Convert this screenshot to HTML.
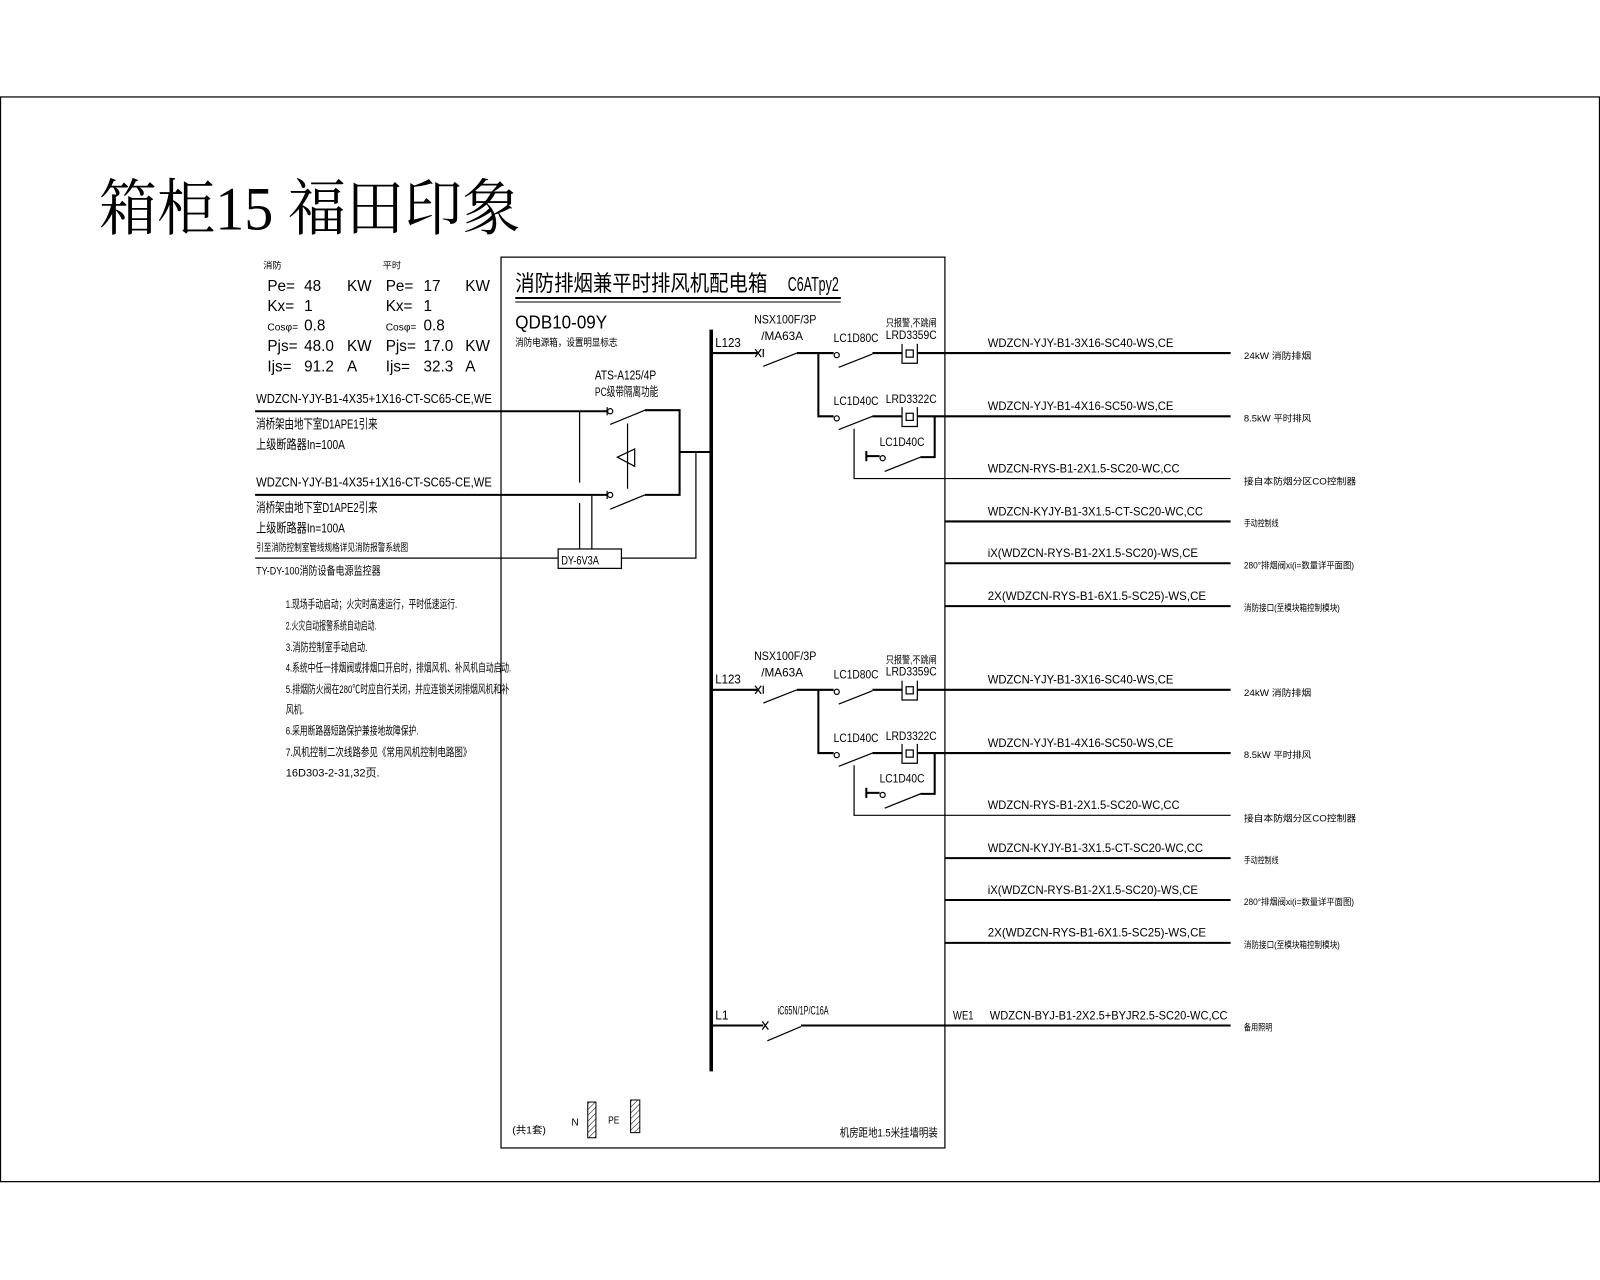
<!DOCTYPE html>
<html><head><meta charset="utf-8"><style>
html,body{margin:0;padding:0;background:#fff;}
svg{display:block;}
text{font-family:"Liberation Sans","Noto Sans CJK SC",sans-serif;fill:#000;}
.t{font-family:"Liberation Serif","Noto Serif CJK SC",serif;}
</style></head><body>
<svg width="1600" height="1280" viewBox="0 0 1568 1254.4" xmlns="http://www.w3.org/2000/svg" stroke="#000" fill="none">
<rect x="0.5" y="95" width="1567" height="1063" stroke-width="1.2"/>
<g stroke="none">
<text class="t" x="97" y="225" font-size="60" textLength="413" lengthAdjust="spacingAndGlyphs">箱柜15 福田印象</text>
</g>
<!-- main box -->
<rect x="491" y="252" width="435" height="873" stroke-width="1.2"/>
<g stroke="none">
<text x="505" y="285" font-size="22" textLength="247" lengthAdjust="spacingAndGlyphs">消防排烟兼平时排风机配电箱</text>
<text x="772" y="285" font-size="20" textLength="50" lengthAdjust="spacingAndGlyphs">C6ATpy2</text>
<text x="505" y="322" font-size="18" textLength="90" lengthAdjust="spacingAndGlyphs">QDB10-09Y</text>
<text x="505" y="339" font-size="10" textLength="100" lengthAdjust="spacingAndGlyphs">消防电源箱，设置明显标志</text>
</g>
<line x1="505" y1="292" x2="824" y2="292" stroke-width="2"/>
<line x1="505" y1="296" x2="824" y2="296" stroke-width="1"/>
<!-- busbar -->
<line x1="697" y1="323" x2="697" y2="1050" stroke-width="3.5"/>

<!-- left data -->
<g stroke="none" font-size="15">
<text x="258" y="263" font-size="9">消防</text>
<text x="375" y="263" font-size="9">平时</text>
<text x="262" y="285">Pe=</text><text x="298" y="285">48</text><text x="340" y="285">KW</text>
<text x="378" y="285">Pe=</text><text x="415" y="285">17</text><text x="456" y="285">KW</text>
<text x="262" y="305">Kx=</text><text x="298" y="305">1</text>
<text x="378" y="305">Kx=</text><text x="415" y="305">1</text>
<text x="262" y="324" font-size="10">Cosφ=</text><text x="298" y="324">0.8</text>
<text x="378" y="324" font-size="10">Cosφ=</text><text x="415" y="324">0.8</text>
<text x="262" y="344">Pjs=</text><text x="298" y="344">48.0</text><text x="340" y="344">KW</text>
<text x="378" y="344">Pjs=</text><text x="415" y="344">17.0</text><text x="456" y="344">KW</text>
<text x="262" y="364">Ijs=</text><text x="298" y="364">91.2</text><text x="340" y="364">A</text>
<text x="378" y="364">Ijs=</text><text x="415" y="364">32.3</text><text x="456" y="364">A</text>
<g font-size="13">
<text x="251" y="395" textLength="231" lengthAdjust="spacingAndGlyphs">WDZCN-YJY-B1-4X35+1X16-CT-SC65-CE,WE</text>
<text x="251" y="420" textLength="119" lengthAdjust="spacingAndGlyphs">消桥架由地下室D1APE1引来</text>
<text x="251" y="440" textLength="87" lengthAdjust="spacingAndGlyphs">上级断路器In=100A</text>
<text x="251" y="477" textLength="231" lengthAdjust="spacingAndGlyphs">WDZCN-YJY-B1-4X35+1X16-CT-SC65-CE,WE</text>
<text x="251" y="502" textLength="119" lengthAdjust="spacingAndGlyphs">消桥架由地下室D1APE2引来</text>
<text x="251" y="522" textLength="87" lengthAdjust="spacingAndGlyphs">上级断路器In=100A</text>
<text x="251" y="540" font-size="10" textLength="149" lengthAdjust="spacingAndGlyphs">引至消防控制室管线规格详见消防报警系统图</text>
<text x="251" y="563" font-size="11" textLength="122" lengthAdjust="spacingAndGlyphs">TY-DY-100消防设备电源监控器</text>
</g>
<g font-size="11">
<text x="280" y="596" textLength="168" lengthAdjust="spacingAndGlyphs">1.现场手动启动；火灾时高速运行，平时低速运行.</text>
<text x="280" y="617" textLength="89" lengthAdjust="spacingAndGlyphs">2.火灾自动报警系统自动启动.</text>
<text x="280" y="638" textLength="80" lengthAdjust="spacingAndGlyphs">3.消防控制室手动启动.</text>
<text x="280" y="658" textLength="221" lengthAdjust="spacingAndGlyphs">4.系统中任一排烟阀或排烟口开启时，排烟风机、补风机自动启动.</text>
<text x="280" y="679" textLength="219" lengthAdjust="spacingAndGlyphs">5.排烟防火阀在280℃时应自行关闭，并应连锁关闭排烟风机和补</text>
<text x="280" y="699" textLength="18" lengthAdjust="spacingAndGlyphs">风机.</text>
<text x="280" y="720" textLength="130" lengthAdjust="spacingAndGlyphs">6.采用断路器短路保护兼接地故障保护.</text>
<text x="280" y="741" textLength="182" lengthAdjust="spacingAndGlyphs">7.风机控制二次线路参见《常用风机控制电路图》</text>
<text x="280" y="761" textLength="92" lengthAdjust="spacingAndGlyphs">16D303-2-31,32页.</text>
</g>
</g>

<!-- ATS -->
<g stroke-width="1.2">
<line x1="250" y1="403" x2="595" y2="403" stroke-width="2"/>
<line x1="250" y1="485" x2="595" y2="485" stroke-width="2"/>
<line x1="250" y1="547" x2="547" y2="547"/>
<circle cx="598" cy="403" r="2.5"/><circle cx="598" cy="485" r="2.5"/>
<line x1="595" y1="399" x2="595" y2="407"/><line x1="595" y1="481" x2="595" y2="489"/>
<line x1="598" y1="416" x2="632" y2="402"/><line x1="598" y1="499" x2="632" y2="485"/>
<polyline points="632,402 666,402 666,485 632,485" stroke-width="2"/>
<line x1="666" y1="443" x2="697" y2="443" stroke-width="2"/>
<line x1="568" y1="403" x2="568" y2="473"/><line x1="568" y1="493" x2="568" y2="538"/>
<line x1="580" y1="485" x2="580" y2="538"/>
<line x1="615" y1="415" x2="615" y2="479"/>
<polygon points="605,448 622,440 622,457"/>
<rect x="547" y="538" width="62" height="19"/>
<polyline points="609,547 682,547 682,443"/>
</g>
<g stroke="none">
<text x="583" y="372" font-size="13" textLength="60" lengthAdjust="spacingAndGlyphs">ATS-A125/4P</text>
<text x="583" y="388" font-size="12" textLength="62" lengthAdjust="spacingAndGlyphs">PC级带隔离功能</text>
<text x="550" y="553" font-size="12" textLength="37" lengthAdjust="spacingAndGlyphs">DY-6V3A</text>
</g>

<!-- SECTION 1 -->
<g id="s1">
<g stroke="none">
<text x="701" y="340" font-size="13" textLength="25" lengthAdjust="spacingAndGlyphs">L123</text>
<text x="739" y="317" font-size="12" textLength="61" lengthAdjust="spacingAndGlyphs">NSX100F/3P</text>
<text x="746" y="333" font-size="12" textLength="41" lengthAdjust="spacingAndGlyphs">/MA63A</text>
<text x="817" y="335" font-size="12" textLength="44" lengthAdjust="spacingAndGlyphs">LC1D80C</text>
<text x="868" y="320" font-size="10" textLength="50" lengthAdjust="spacingAndGlyphs">只报警,不跳闸</text>
<text x="868" y="332" font-size="12" textLength="50" lengthAdjust="spacingAndGlyphs">LRD3359C</text>
<text x="817" y="397" font-size="12" textLength="44" lengthAdjust="spacingAndGlyphs">LC1D40C</text>
<text x="868" y="395" font-size="12" textLength="50" lengthAdjust="spacingAndGlyphs">LRD3322C</text>
<text x="862" y="437" font-size="12" textLength="44" lengthAdjust="spacingAndGlyphs">LC1D40C</text>
<g font-size="12">
<text x="968" y="340" textLength="182" lengthAdjust="spacingAndGlyphs">WDZCN-YJY-B1-3X16-SC40-WS,CE</text>
<text x="968" y="402" textLength="182" lengthAdjust="spacingAndGlyphs">WDZCN-YJY-B1-4X16-SC50-WS,CE</text>
<text x="968" y="463" textLength="188" lengthAdjust="spacingAndGlyphs">WDZCN-RYS-B1-2X1.5-SC20-WC,CC</text>
<text x="968" y="505" textLength="211" lengthAdjust="spacingAndGlyphs">WDZCN-KYJY-B1-3X1.5-CT-SC20-WC,CC</text>
<text x="968" y="546" textLength="206" lengthAdjust="spacingAndGlyphs">iX(WDZCN-RYS-B1-2X1.5-SC20)-WS,CE</text>
<text x="968" y="588" textLength="214" lengthAdjust="spacingAndGlyphs">2X(WDZCN-RYS-B1-6X1.5-SC25)-WS,CE</text>
</g>
<g font-size="9">
<text x="1219" y="352" textLength="66" lengthAdjust="spacingAndGlyphs">24kW    消防排烟</text>
<text x="1219" y="413" textLength="66" lengthAdjust="spacingAndGlyphs">8.5kW   平时排风</text>
<text x="1219" y="475" textLength="110" lengthAdjust="spacingAndGlyphs">接自本防烟分区CO控制器</text>
<text x="1219" y="516" textLength="34" lengthAdjust="spacingAndGlyphs">手动控制线</text>
<text x="1219" y="557" textLength="108" lengthAdjust="spacingAndGlyphs">280°排烟阀xi(i=数量详平面图)</text>
<text x="1219" y="599" textLength="94" lengthAdjust="spacingAndGlyphs">消防接口(至模块箱控制模块)</text>
</g>
</g>
<g stroke-width="1.2">
<line x1="697" y1="346" x2="742" y2="346" stroke-width="2"/>
<line x1="740" y1="342" x2="746" y2="350"/><line x1="740" y1="350" x2="746" y2="342"/>
<line x1="748" y1="342" x2="748" y2="350"/>
<line x1="748" y1="359" x2="781" y2="346"/>
<line x1="781" y1="346" x2="817" y2="346" stroke-width="2"/>
<circle cx="820" cy="348" r="2.5"/>
<line x1="822" y1="360" x2="855" y2="347"/>
<line x1="855" y1="346" x2="884" y2="346" stroke-width="2"/>
<path d="M884 337 V356 H899 V337"/><rect x="888" y="343" width="7" height="7"/>
<line x1="899" y1="346" x2="1206" y2="346" stroke-width="2"/>
<polyline points="802,346 802,408 817,408" stroke-width="2"/>
<circle cx="820" cy="410" r="2.5"/>
<line x1="822" y1="421" x2="855" y2="408"/>
<line x1="855" y1="408" x2="884" y2="408" stroke-width="2"/>
<path d="M884 399 V418 H899 V399"/><rect x="888" y="405" width="7" height="7"/>
<line x1="899" y1="408" x2="1206" y2="408" stroke-width="2"/>
<polyline points="916,408 916,448 902,448" stroke-width="2"/>
<line x1="867" y1="462" x2="902" y2="448"/>
<line x1="849" y1="442" x2="849" y2="452" stroke-width="2"/>
<line x1="849" y1="447" x2="862" y2="447" stroke-width="2"/>
<circle cx="865" cy="449" r="2.5"/>
<polyline points="837,420 837,469 1206,469"/>
<line x1="926" y1="511" x2="1206" y2="511" stroke-width="2"/>
<line x1="926" y1="552" x2="1206" y2="552" stroke-width="2"/>
<line x1="926" y1="594" x2="1206" y2="594" stroke-width="2"/>
</g>
</g>

<!-- SECTION 2 (copy shifted 330) -->
<g transform="translate(0,330)">
<g stroke="none">
<text x="701" y="340" font-size="13" textLength="25" lengthAdjust="spacingAndGlyphs">L123</text>
<text x="739" y="317" font-size="12" textLength="61" lengthAdjust="spacingAndGlyphs">NSX100F/3P</text>
<text x="746" y="333" font-size="12" textLength="41" lengthAdjust="spacingAndGlyphs">/MA63A</text>
<text x="817" y="335" font-size="12" textLength="44" lengthAdjust="spacingAndGlyphs">LC1D80C</text>
<text x="868" y="320" font-size="10" textLength="50" lengthAdjust="spacingAndGlyphs">只报警,不跳闸</text>
<text x="868" y="332" font-size="12" textLength="50" lengthAdjust="spacingAndGlyphs">LRD3359C</text>
<text x="817" y="397" font-size="12" textLength="44" lengthAdjust="spacingAndGlyphs">LC1D40C</text>
<text x="868" y="395" font-size="12" textLength="50" lengthAdjust="spacingAndGlyphs">LRD3322C</text>
<text x="862" y="437" font-size="12" textLength="44" lengthAdjust="spacingAndGlyphs">LC1D40C</text>
<g font-size="12">
<text x="968" y="340" textLength="182" lengthAdjust="spacingAndGlyphs">WDZCN-YJY-B1-3X16-SC40-WS,CE</text>
<text x="968" y="402" textLength="182" lengthAdjust="spacingAndGlyphs">WDZCN-YJY-B1-4X16-SC50-WS,CE</text>
<text x="968" y="463" textLength="188" lengthAdjust="spacingAndGlyphs">WDZCN-RYS-B1-2X1.5-SC20-WC,CC</text>
<text x="968" y="505" textLength="211" lengthAdjust="spacingAndGlyphs">WDZCN-KYJY-B1-3X1.5-CT-SC20-WC,CC</text>
<text x="968" y="546" textLength="206" lengthAdjust="spacingAndGlyphs">iX(WDZCN-RYS-B1-2X1.5-SC20)-WS,CE</text>
<text x="968" y="588" textLength="214" lengthAdjust="spacingAndGlyphs">2X(WDZCN-RYS-B1-6X1.5-SC25)-WS,CE</text>
</g>
<g font-size="9">
<text x="1219" y="352" textLength="66" lengthAdjust="spacingAndGlyphs">24kW    消防排烟</text>
<text x="1219" y="413" textLength="66" lengthAdjust="spacingAndGlyphs">8.5kW   平时排风</text>
<text x="1219" y="475" textLength="110" lengthAdjust="spacingAndGlyphs">接自本防烟分区CO控制器</text>
<text x="1219" y="516" textLength="34" lengthAdjust="spacingAndGlyphs">手动控制线</text>
<text x="1219" y="557" textLength="108" lengthAdjust="spacingAndGlyphs">280°排烟阀xi(i=数量详平面图)</text>
<text x="1219" y="599" textLength="94" lengthAdjust="spacingAndGlyphs">消防接口(至模块箱控制模块)</text>
</g>
</g>
<g stroke-width="1.2">
<line x1="697" y1="346" x2="742" y2="346" stroke-width="2"/>
<line x1="740" y1="342" x2="746" y2="350"/><line x1="740" y1="350" x2="746" y2="342"/>
<line x1="748" y1="342" x2="748" y2="350"/>
<line x1="748" y1="359" x2="781" y2="346"/>
<line x1="781" y1="346" x2="817" y2="346" stroke-width="2"/>
<circle cx="820" cy="348" r="2.5"/>
<line x1="822" y1="360" x2="855" y2="347"/>
<line x1="855" y1="346" x2="884" y2="346" stroke-width="2"/>
<path d="M884 337 V356 H899 V337"/><rect x="888" y="343" width="7" height="7"/>
<line x1="899" y1="346" x2="1206" y2="346" stroke-width="2"/>
<polyline points="802,346 802,408 817,408" stroke-width="2"/>
<circle cx="820" cy="410" r="2.5"/>
<line x1="822" y1="421" x2="855" y2="408"/>
<line x1="855" y1="408" x2="884" y2="408" stroke-width="2"/>
<path d="M884 399 V418 H899 V399"/><rect x="888" y="405" width="7" height="7"/>
<line x1="899" y1="408" x2="1206" y2="408" stroke-width="2"/>
<polyline points="916,408 916,448 902,448" stroke-width="2"/>
<line x1="867" y1="462" x2="902" y2="448"/>
<line x1="849" y1="442" x2="849" y2="452" stroke-width="2"/>
<line x1="849" y1="447" x2="862" y2="447" stroke-width="2"/>
<circle cx="865" cy="449" r="2.5"/>
<polyline points="837,420 837,469 1206,469"/>
<line x1="926" y1="511" x2="1206" y2="511" stroke-width="2"/>
<line x1="926" y1="552" x2="1206" y2="552" stroke-width="2"/>
<line x1="926" y1="594" x2="1206" y2="594" stroke-width="2"/>
</g>
</g>

<!-- SECTION 3 -->
<g stroke-width="1.2">
<line x1="697" y1="1005" x2="748" y2="1005" stroke-width="2"/>
<line x1="747" y1="1001" x2="753" y2="1009"/><line x1="747" y1="1009" x2="753" y2="1001"/>
<line x1="752" y1="1020" x2="785" y2="1006"/>
<line x1="785" y1="1005" x2="1206" y2="1005" stroke-width="2"/>
</g>
<g stroke="none">
<text x="701" y="999" font-size="13" textLength="13" lengthAdjust="spacingAndGlyphs">L1</text>
<text x="762" y="994" font-size="12" textLength="50" lengthAdjust="spacingAndGlyphs">iC65N/1P/C16A</text>
<text x="934" y="999" font-size="12" textLength="20" lengthAdjust="spacingAndGlyphs">WE1</text>
<text x="970" y="999" font-size="12" textLength="233" lengthAdjust="spacingAndGlyphs">WDZCN-BYJ-B1-2X2.5+BYJR2.5-SC20-WC,CC</text>
<text x="1219" y="1010" font-size="9" textLength="28" lengthAdjust="spacingAndGlyphs">备用照明</text>
<text x="502" y="1111" font-size="10" textLength="33" lengthAdjust="spacingAndGlyphs">(共1套)</text>
<text x="560" y="1103" font-size="10">N</text>
<text x="596" y="1101" font-size="10" textLength="11" lengthAdjust="spacingAndGlyphs">PE</text>
<text x="823" y="1114" font-size="11" textLength="96" lengthAdjust="spacingAndGlyphs">机房距地1.5米挂墙明装</text>
</g>
<defs><pattern id="h" width="4" height="4" patternUnits="userSpaceOnUse" patternTransform="rotate(45)"><line x1="0" y1="0" x2="0" y2="4" stroke="#000" stroke-width="1"/></pattern></defs>
<rect x="576" y="1080" width="8" height="35" fill="url(#h)" stroke-width="1"/>
<rect x="618" y="1078" width="9" height="32" fill="url(#h)" stroke-width="1"/>
</svg>
</body></html>
